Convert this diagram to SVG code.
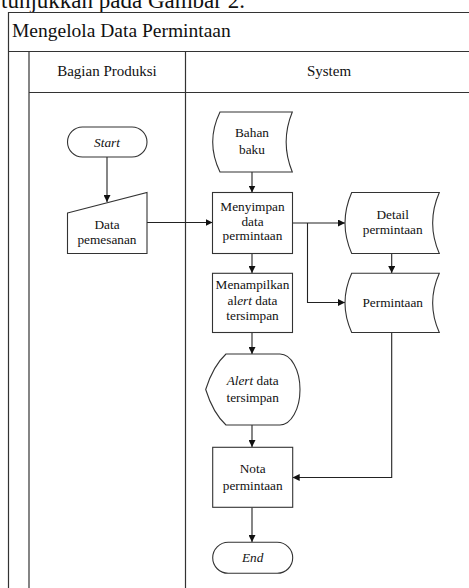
<svg xmlns="http://www.w3.org/2000/svg" width="469" height="588" viewBox="0 0 469 588" font-family="'Liberation Serif', 'Times New Roman', serif">
<style>
  text { font-family: "Liberation Serif", "Times New Roman", serif; fill: #111; }
  .t { font-size: 13.3px; text-anchor: middle; }
  .it { font-style: italic; }
  .frame { fill: none; stroke: #333; stroke-width: 1.2; }
  .shape { fill: #fff; stroke: #333; stroke-width: 1.1; }
  .conn { fill: none; stroke: #222; stroke-width: 1.1; }
</style>
<defs>
  <marker id="ah" viewBox="0 0 10 10" refX="10" refY="5" markerWidth="7" markerHeight="7" markerUnits="userSpaceOnUse" orient="auto">
    <path d="M0,0 L10,5 L0,10 Z" fill="#111"/>
  </marker>
</defs>
<rect width="469" height="588" fill="#fff"/>
<text x="1" y="8" font-size="23">tunjukkan pada Gambar 2.</text>

<g id="pool">
  <path class="frame" d="M475,12.5 H8.5 V600"/>
  <path class="frame" d="M8.5,51.5 H475"/>
  <path class="frame" d="M29,51.5 V600"/>
  <path class="frame" d="M29,92.5 H475"/>
  <path class="frame" d="M185.5,51.5 V600"/>
  <text x="12" y="37" font-size="19.5">Mengelola Data Permintaan</text>
  <text x="107" y="76" font-size="15" text-anchor="middle">Bagian Produksi</text>
  <text x="329" y="76" font-size="15" text-anchor="middle">System</text>
</g>

<g id="connectors">
  <path class="conn" d="M107,157 V202" marker-end="url(#ah)"/>
  <path class="conn" d="M147,222.5 H212.5" marker-end="url(#ah)"/>
  <path class="conn" d="M252,172 V192.5" marker-end="url(#ah)"/>
  <path class="conn" d="M252,253.5 V273" marker-end="url(#ah)"/>
  <path class="conn" d="M292.5,223 H345" marker-end="url(#ah)"/>
  <path class="conn" d="M307.5,223 V302.5 H345" marker-end="url(#ah)"/>
  <path class="conn" d="M391.7,253.5 V273" marker-end="url(#ah)"/>
  <path class="conn" d="M252,332.5 V354" marker-end="url(#ah)"/>
  <path class="conn" d="M252,425 V447" marker-end="url(#ah)"/>
  <path class="conn" d="M391.7,332.5 V477.5 H292.7" marker-end="url(#ah)"/>
  <path class="conn" d="M252,507.5 V542" marker-end="url(#ah)"/>
</g>

<g id="start">
  <rect class="shape" x="67.5" y="127" width="79.5" height="30" rx="15"/>
  <text class="t it" x="107" y="146.5">Start</text>
</g>

<g id="data-pemesanan">
  <path class="shape" d="M67.5,213 L147,192.5 L147,253.5 L67.5,253.5 Z"/>
  <text class="t" x="107" y="229">Data</text>
  <text class="t" x="107" y="243.5">pemesanan</text>
</g>

<g id="bahan-baku">
  <path class="shape" d="M220,112 L292.3,112 Q280,142 292.3,172 L220,172 Q205.4,142 220,112 Z"/>
  <text class="t" x="252" y="137.3">Bahan</text>
  <text class="t" x="252" y="154.3">baku</text>
</g>

<g id="menyimpan">
  <rect class="shape" x="212.5" y="192.5" width="80" height="61"/>
  <text class="t" x="252.5" y="211">Menyimpan</text>
  <text class="t" x="252.5" y="225.5">data</text>
  <text class="t" x="252.5" y="240">permintaan</text>
</g>

<g id="menampilkan">
  <rect class="shape" x="212.5" y="273.3" width="80" height="59.2"/>
  <text class="t" x="252.5" y="289.3">Menampilkan</text>
  <text class="t" x="252.5" y="305">al<tspan class="it">ert</tspan> data</text>
  <text class="t" x="252.5" y="320.3">tersimpan</text>
</g>

<g id="detail-permintaan">
  <path class="shape" d="M351.7,192.5 L439.3,192.5 Q426,223 439.3,253.5 L351.7,253.5 Q338.3,223 351.7,192.5 Z"/>
  <text class="t" x="392.7" y="219">Detail</text>
  <text class="t" x="392.7" y="233.5">permintaan</text>
</g>

<g id="permintaan">
  <path class="shape" d="M351.7,273.3 L439.3,273.3 Q426,303 439.3,332.5 L351.7,332.5 Q338.3,303 351.7,273.3 Z"/>
  <text class="t" x="392.7" y="306.7">Permintaan</text>
</g>

<g id="alert">
  <path class="shape" d="M205.7,389.5 Q213,366 226,354 L280,354 A20,35.5 0 0 1 280,425 L226,425 Q213,413 205.7,389.5 Z"/>
  <text class="t" x="252.7" y="385"><tspan class="it">Alert</tspan> data</text>
  <text class="t" x="252.7" y="401.7">tersimpan</text>
</g>

<g id="nota">
  <rect class="shape" x="212.7" y="447.3" width="80" height="60"/>
  <text class="t" x="252.7" y="473.3">Nota</text>
  <text class="t" x="252.7" y="490">permintaan</text>
</g>

<g id="end">
  <rect class="shape" x="212.7" y="542.3" width="80" height="31" rx="15.5"/>
  <text class="t it" x="252.7" y="562.3">End</text>
</g>
</svg>
